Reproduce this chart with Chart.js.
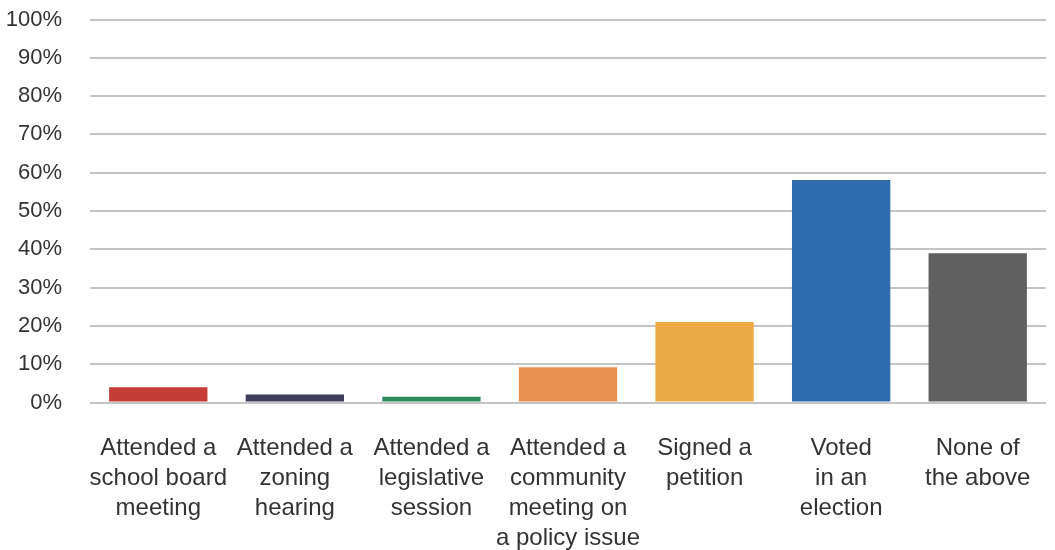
<!DOCTYPE html>
<html>
<head>
<meta charset="utf-8">
<script src="https://cdn.jsdelivr.net/npm/chart.js@4"></script>
<style>
html,body{margin:0;padding:0;background:#fff;}
#wrap{width:1055px;height:550px;position:relative;}
</style>
</head>
<body>
<div id="wrap"><canvas id="c" width="1055" height="550"></canvas></div>
<script>
const categories = [
  ["Attended a","school board","meeting"],
  ["Attended a","zoning","hearing"],
  ["Attended a","legislative","session"],
  ["Attended a","community","meeting on","a policy issue"],
  ["Signed a","petition"],
  ["Voted","in an","election"],
  ["None of","the above"]
];
const values = [4.0, 2.1, 1.5, 9.2, 21.0, 58.1, 39.0];
const barColors = ["#C53D36","#3F3D5C","#2E8B5E","#E8904E","#EBAA44","#2E6CAD","#606060"];
const yTicks = [0,10,20,30,40,50,60,70,80,90,100];

new Chart(document.getElementById('c'), {
  type: 'bar',
  data: {
    labels: categories,
    datasets: [{
      data: values,
      backgroundColor: barColors,
      borderWidth: 0,
      barPercentage: 0.72,
      categoryPercentage: 1.0
    }]
  },
  options: {
    responsive: false,
    animation: false,
    devicePixelRatio: 1,
    layout: { padding: { top: 0, right: 9, left: 0, bottom: 0 } },
    plugins: { legend: { display: false }, tooltip: { enabled: false } },
    scales: {
      x: {
        grid: { display: false, drawTicks: false },
        border: { display: false },
        ticks: {
          color: '#333333',
          font: { family: 'Liberation Sans, Arial, sans-serif', size: 24, lineHeight: 1.25 },
          padding: 31,
          maxRotation: 0,
          autoSkip: false
        },
        afterFit: s => { s.height = 147.5; s.paddingLeft = 0; s.paddingRight = 0; s.paddingTop = 0; s.paddingBottom = 0; }
      },
      y: {
        min: 0, max: 100,
        afterBuildTicks: s => { s.ticks = yTicks.map(v => ({ value: v })); },
        grid: { color: '#C4C4C4', lineWidth: 2, drawTicks: false },
        border: { display: false },
        ticks: {
          color: '#333333',
          font: { family: 'Liberation Sans, Arial, sans-serif', size: 22 },
          padding: 28,
          callback: v => v + '%'
        },
        afterFit: s => { s.width = 90; s.paddingTop = 19.5; s.paddingBottom = 0; }
      }
    }
  }
});
</script>
</body>
</html>
